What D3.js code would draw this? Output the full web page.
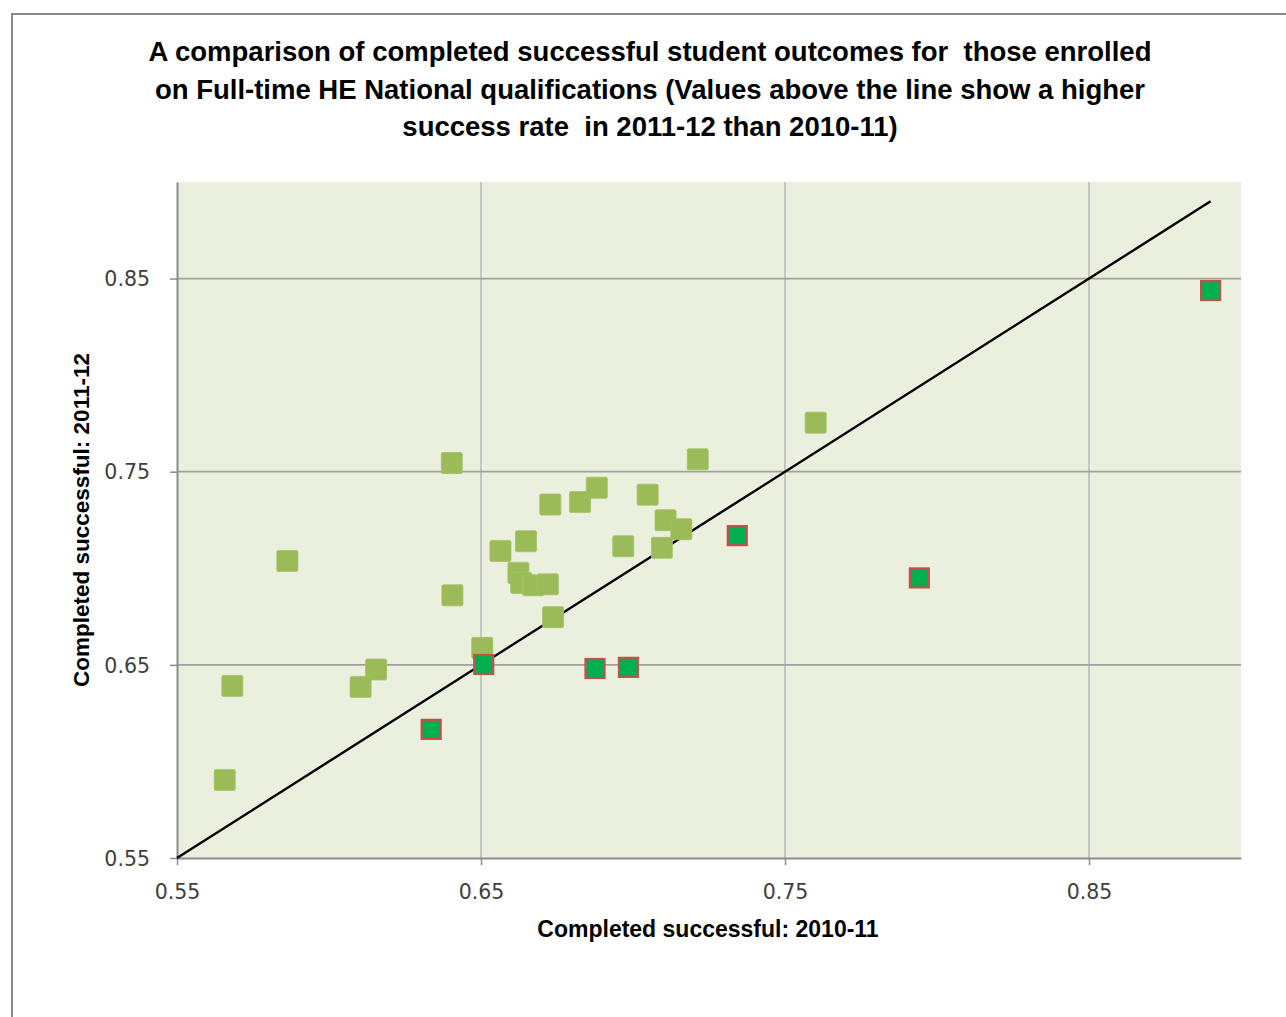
<!DOCTYPE html>
<html>
<head>
<meta charset="utf-8">
<script src="https://cdn.jsdelivr.net/npm/d3@7"></script>
<style>
  html, body { margin: 0; padding: 0; background: #ffffff; }
  svg { display: block; }
</style>
</head>
<body>
<svg id="chart" width="1286" height="1017"></svg>
<script>
// ---- data ----
const titleLines = [
  "A comparison of completed successful student outcomes for  those enrolled",
  "on Full-time HE National qualifications (Values above the line show a higher",
  "success rate  in 2011-12 than 2010-11)"
];
const xTitle = "Completed successful: 2010-11";
const yTitle = "Completed successful: 2011-12";
const tickValues = [0.55, 0.65, 0.75, 0.85];

// Colleges where 2011-12 success is higher (light green squares)
const higherX = [0.6404, 0.5863, 0.6406, 0.6504, 0.6155, 0.6104, 0.5682, 0.5657, 0.6728,
                 0.6826, 0.6881, 0.7048, 0.7213, 0.6564, 0.6648, 0.6623, 0.6632, 0.6672,
                 0.6720, 0.6737, 0.6968, 0.7107, 0.7159, 0.7095, 0.7601];
const higherY = [0.7545, 0.7038, 0.6860, 0.6588, 0.6476, 0.6386, 0.6391, 0.5904, 0.7330,
                 0.7343, 0.7417, 0.7381, 0.7564, 0.7090, 0.7140, 0.6976, 0.6924, 0.6912,
                 0.6917, 0.6747, 0.7114, 0.7249, 0.7202, 0.7106, 0.7754];
// Colleges where 2011-12 success is lower (dark green, red outline)
const lowerX = [0.6509, 0.6336, 0.7343, 0.6875, 0.6985, 0.7942, 0.8900];
const lowerY = [0.6502, 0.6166, 0.7169, 0.6481, 0.6487, 0.6950, 0.8438];
// reference line y = x
const lineX = [0.55, 0.89];
const lineY = [0.55, 0.89];

// ---- layout ----
const svg = d3.select("#chart");
const W = 1286, H = 1017;
const plot = { left: 177, right: 1241, top: 182, bottom: 858 };

const x = d3.scaleLinear().domain([0.55, 0.90]).range([plot.left, plot.right]);
const y = d3.scaleLinear().domain([0.55, 0.90]).range([plot.bottom, plot.top]);

// outer chart border (only top & left visible within frame)
svg.append("rect")
  .attr("x", 12).attr("y", 14)
  .attr("width", W + 20).attr("height", H + 20)
  .attr("fill", "#ffffff").attr("stroke", "#8c8c8c").attr("stroke-width", 2);

// title
const titleFont = "'Liberation Sans Narrow', 'Arial Narrow', 'Liberation Sans', sans-serif";
const tg = svg.append("g");
titleLines.forEach((t, i) => {
  tg.append("text")
    .attr("x", 650).attr("y", 61 + i * 37.5)
    .attr("text-anchor", "middle")
    .attr("font-family", titleFont)
    .attr("font-weight", "bold")
    .attr("font-size", 27.5)
    .attr("fill", "#000")
    .style("white-space", "pre")
    .text(t);
});

// plot background
svg.append("rect")
  .attr("x", plot.left).attr("y", plot.top)
  .attr("width", plot.right - plot.left).attr("height", plot.bottom - plot.top)
  .attr("fill", "#ebf0de");

// gridlines
svg.append("g").selectAll("line.v").data(tickValues.slice(1)).join("line")
  .attr("x1", d => x(d)).attr("x2", d => x(d))
  .attr("y1", plot.top).attr("y2", plot.bottom)
  .attr("stroke", "#b8b8b8").attr("stroke-width", 1.5);
svg.append("g").selectAll("line.h").data(tickValues.slice(1)).join("line")
  .attr("x1", plot.left).attr("x2", plot.right)
  .attr("y1", d => y(d)).attr("y2", d => y(d))
  .attr("stroke", "#a0a0a0").attr("stroke-width", 1.8);

// axes
const tickFont = "'DejaVu Sans', Verdana, sans-serif";
const xAxis = svg.append("g")
  .attr("transform", `translate(0,${plot.bottom})`)
  .call(d3.axisBottom(x).tickValues(tickValues).tickFormat(d3.format(".2f")).tickSize(7).tickSizeOuter(0).tickPadding(19));
const yAxis = svg.append("g")
  .attr("transform", `translate(${plot.left},0)`)
  .call(d3.axisLeft(y).tickValues(tickValues).tickFormat(d3.format(".2f")).tickSize(7).tickSizeOuter(0).tickPadding(20));
[xAxis, yAxis].forEach(a => {
  a.select(".domain").attr("stroke", "#8c8c8c").attr("stroke-width", 2);
  a.selectAll(".tick line").attr("stroke", "#8c8c8c").attr("stroke-width", 1.5);
  a.selectAll(".tick text")
    .attr("font-family", tickFont).attr("font-size", 20.5).attr("fill", "#404040");
});
xAxis.selectAll(".tick text").attr("dy", "0.71em");
yAxis.selectAll(".tick text").attr("dy", "0.35em");

// axis titles
svg.append("text")
  .attr("x", 708).attr("y", 937)
  .attr("text-anchor", "middle")
  .attr("font-family", titleFont).attr("font-weight", "bold").attr("font-size", 23)
  .attr("fill", "#000").text(xTitle);
svg.append("text")
  .attr("transform", `translate(89,520) rotate(-90)`)
  .attr("text-anchor", "middle")
  .attr("font-family", titleFont).attr("font-weight", "bold").attr("font-size", 22.5)
  .attr("fill", "#000").text(yTitle);

// reference line
const lineData = lineX.map((v, i) => [v, lineY[i]]);
svg.append("path")
  .datum(lineData)
  .attr("d", d3.line().x(d => x(d[0])).y(d => y(d[1])))
  .attr("stroke", "#000").attr("stroke-width", 2.4).attr("fill", "none");

// markers
const higher = higherX.map((v, i) => ({ x: v, y: higherY[i] }));
const lower = lowerX.map((v, i) => ({ x: v, y: lowerY[i] }));
const gs = 21;
svg.append("g").selectAll("rect").data(higher).join("rect")
  .attr("x", d => x(d.x) - gs / 2).attr("y", d => y(d.y) - gs / 2)
  .attr("width", gs).attr("height", gs).attr("rx", 1.5)
  .attr("fill", "#9bbb59").attr("stroke", "#a3c065").attr("stroke-width", 0.8);
const rs = 19;
svg.append("g").selectAll("rect").data(lower).join("rect")
  .attr("x", d => x(d.x) - rs / 2).attr("y", d => y(d.y) - rs / 2)
  .attr("width", rs).attr("height", rs)
  .attr("fill", "#00b050").attr("stroke", "#c0504d").attr("stroke-width", 2.2);
</script>
</body>
</html>
